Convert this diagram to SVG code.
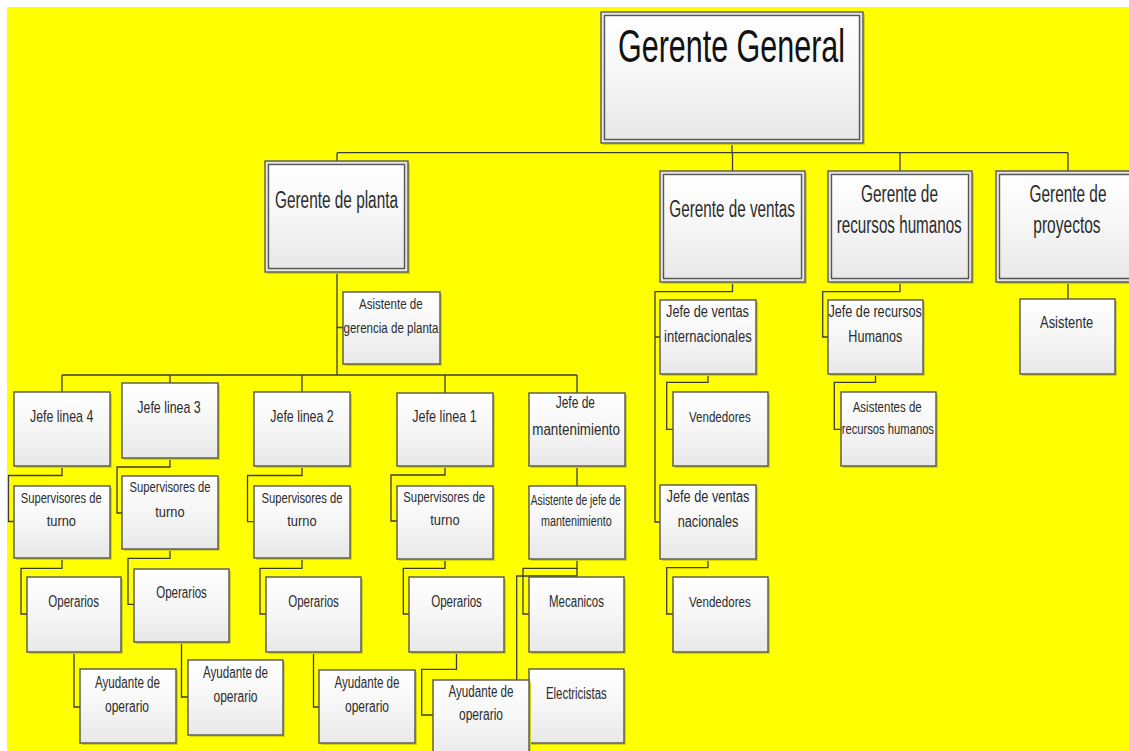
<svg xmlns="http://www.w3.org/2000/svg" width="1129" height="751" viewBox="0 0 1129 751">
  <defs>
    <linearGradient id="fillG" x1="0" y1="0" x2="0" y2="1">
      <stop offset="0" stop-color="#ffffff"/>
      <stop offset="0.45" stop-color="#f7f7f7"/>
      <stop offset="1" stop-color="#e8e8e8"/>
    </linearGradient>
    <style>
      .box { fill: url(#fillG); stroke: #555555; stroke-width: 1.4; }
      .frame { fill: #e4e4e4; stroke: #5a5a5a; stroke-width: 1.4; }
      .sh { fill: #d4d400; }
      .c { fill: none; stroke: #3c3c3c; stroke-width: 1.3; }
      text { font-family: "Liberation Sans", Arial, sans-serif; fill: #2b2b2b; }
      .f47 { font-size: 47px; fill: #111111; }
      .f23 { font-size: 23px; }
      .f17 { font-size: 17px; }
      .f16 { font-size: 16px; }
      .f15 { font-size: 15.5px; }
      .f14 { font-size: 14px; }
    </style>
  </defs>

  <!-- page background -->
  <rect x="0" y="0" width="1129" height="751" fill="#ffffff"/>
  <rect x="7" y="7" width="1122" height="744" fill="#ffff00"/>

  <!-- connectors -->
  <g id="connectors" class="c">
    <path d="M732,143 V152.7 M337,152.7 H1068 M337,152.7 V161 M732.5,152.7 V171 M900,152.7 V171 M1068,152.7 V171"/>
    <path d="M337,272 V375 M337,327.5 H343"/>
    <path d="M62,375 H577 M62,375 V392 M170,375 V383 M302,375 V392 M445,375 V393 M577,375 V393"/>
    <!-- linea 4 -->
    <path d="M62,466 V475.5 H8.5 V521.5 H14"/>
    <path d="M62,558 V568.3 H21 V614 H27"/>
    <path d="M74,652 V707 H80"/>
    <!-- linea 3 -->
    <path d="M170,458 V467 H117 V513 H122"/>
    <path d="M170,549 V558.3 H128 V604.3 H134"/>
    <path d="M181.5,642 V697 H188"/>
    <!-- linea 2 -->
    <path d="M302,466 V475.5 H247.5 V521.7 H254"/>
    <path d="M302,558 V568.3 H260 V614 H266"/>
    <path d="M313.5,652 V707 H319"/>
    <!-- linea 1 -->
    <path d="M445,466 V475 H391 V521 H397"/>
    <path d="M445,559 V568.3 H403.3 V614 H409"/>
    <path d="M456.5,652 V669.3 H421.7 V715 H433"/>
    <!-- mantenimiento -->
    <path d="M577,466 V486"/>
    <path d="M577,559 V568.3 H523 V614 H529"/>
    <path d="M577,568.3 V576 H516.7 V706 H529"/>
    <!-- ventas -->
    <path d="M732.5,282 V291.7 H655 V522 H660 M655,337 H660"/>
    <path d="M708,374 V382.3 H666.7 V429.3 H673"/>
    <path d="M708,559 V567.7 H666.7 V614 H673"/>
    <!-- recursos humanos -->
    <path d="M900,282 V291.7 H822.7 V337 H828"/>
    <path d="M875.5,374 V382.3 H834.3 V429.3 H841"/>
    <!-- proyectos -->
    <path d="M1068,282 V299"/>
  </g>

  <!-- top level -->
  <g id="gerente-general">
    <rect class="sh" x="603" y="14" width="262" height="131"/>
    <rect class="frame" x="601" y="12" width="262" height="131"/>
    <rect class="box" x="604.5" y="15.5" width="255" height="124"/>
    <text class="f47" x="618" y="61.7" textLength="227" lengthAdjust="spacingAndGlyphs">Gerente General</text>
  </g>

  <g id="gerente-planta">
    <rect class="sh" x="267" y="163" width="143" height="111"/>
    <rect class="frame" x="265" y="161" width="143" height="111"/>
    <rect class="box" x="268.5" y="164.5" width="136" height="104"/>
    <text class="f23" x="275" y="208" textLength="123" lengthAdjust="spacingAndGlyphs">Gerente de planta</text>
  </g>

  <g id="gerente-ventas">
    <rect class="sh" x="662" y="173" width="145" height="111"/>
    <rect class="frame" x="660" y="171" width="145" height="111"/>
    <rect class="box" x="663.5" y="174.5" width="138" height="104"/>
    <text class="f23" x="669.3" y="216.7" textLength="125.7" lengthAdjust="spacingAndGlyphs">Gerente de ventas</text>
  </g>

  <g id="gerente-rrhh">
    <rect class="sh" x="830" y="173" width="144" height="111"/>
    <rect class="frame" x="828" y="171" width="144" height="111"/>
    <rect class="box" x="831.5" y="174.5" width="137" height="104"/>
    <text class="f23" x="861" y="201.7" textLength="77" lengthAdjust="spacingAndGlyphs">Gerente de</text>
    <text class="f23" x="836.7" y="233.3" textLength="125" lengthAdjust="spacingAndGlyphs">recursos humanos</text>
  </g>

  <!-- this box runs on past the right edge of the page -->
  <g id="gerente-proyectos">
    <rect class="sh" x="998" y="173" width="131" height="111"/>
    <path class="frame" d="M1129,171 H996 V282 H1129"/>
    <path class="box" d="M1129,174.5 H999.5 V278.5 H1129"/>
    <text class="f23" x="1029.5" y="201.7" textLength="77" lengthAdjust="spacingAndGlyphs">Gerente de</text>
    <text class="f23" x="1033.3" y="233.3" textLength="67.3" lengthAdjust="spacingAndGlyphs">proyectos</text>
  </g>

  <!-- planta -->
  <g id="asistente-gerencia">
    <rect class="sh" x="345" y="294" width="97" height="72"/>
    <rect class="box" x="343" y="292" width="97" height="72"/>
    <text class="f14" x="359" y="308.7" textLength="63.7" lengthAdjust="spacingAndGlyphs">Asistente de</text>
    <text class="f14" x="343.5" y="333.3" textLength="95" lengthAdjust="spacingAndGlyphs">gerencia de planta</text>
  </g>

  <g id="jefe-linea-4">
    <rect class="sh" x="16" y="394" width="96" height="74"/>
    <rect class="box" x="14" y="392" width="96" height="74"/>
    <text class="f17" x="30" y="422.3" textLength="63.3" lengthAdjust="spacingAndGlyphs">Jefe linea 4</text>
  </g>
  <g id="jefe-linea-3">
    <rect class="sh" x="124" y="385" width="96" height="75"/>
    <rect class="box" x="122" y="383" width="96" height="75"/>
    <text class="f17" x="137.3" y="412.7" textLength="63.4" lengthAdjust="spacingAndGlyphs">Jefe linea 3</text>
  </g>
  <g id="jefe-linea-2">
    <rect class="sh" x="256" y="394" width="96" height="74"/>
    <rect class="box" x="254" y="392" width="96" height="74"/>
    <text class="f17" x="270.3" y="422" textLength="63.4" lengthAdjust="spacingAndGlyphs">Jefe linea 2</text>
  </g>
  <g id="jefe-linea-1">
    <rect class="sh" x="399" y="395" width="96" height="73"/>
    <rect class="box" x="397" y="393" width="96" height="73"/>
    <text class="f17" x="412.3" y="421.7" textLength="64.4" lengthAdjust="spacingAndGlyphs">Jefe linea 1</text>
  </g>
  <g id="jefe-mantenimiento">
    <rect class="sh" x="531" y="395" width="96" height="73"/>
    <rect class="box" x="529" y="393" width="96" height="73"/>
    <text class="f16" x="555.7" y="408.3" textLength="39.3" lengthAdjust="spacingAndGlyphs">Jefe de</text>
    <text class="f16" x="532.3" y="435" textLength="87.7" lengthAdjust="spacingAndGlyphs">mantenimiento</text>
  </g>

  <g id="supervisores-4">
    <rect class="sh" x="16" y="488" width="96" height="72"/>
    <rect class="box" x="14" y="486" width="96" height="72"/>
    <text class="f15" x="20.7" y="502.7" textLength="81" lengthAdjust="spacingAndGlyphs">Supervisores de</text>
    <text class="f15" x="46.7" y="525.7" textLength="29.3" lengthAdjust="spacingAndGlyphs">turno</text>
  </g>
  <g id="supervisores-3">
    <rect class="sh" x="124" y="478" width="96" height="73"/>
    <rect class="box" x="122" y="476" width="96" height="73"/>
    <text class="f15" x="129.5" y="492.3" textLength="81" lengthAdjust="spacingAndGlyphs">Supervisores de</text>
    <text class="f15" x="155.3" y="516.7" textLength="29.3" lengthAdjust="spacingAndGlyphs">turno</text>
  </g>
  <g id="supervisores-2">
    <rect class="sh" x="256" y="488" width="96" height="72"/>
    <rect class="box" x="254" y="486" width="96" height="72"/>
    <text class="f15" x="261.5" y="502.5" textLength="81" lengthAdjust="spacingAndGlyphs">Supervisores de</text>
    <text class="f15" x="287.3" y="525.5" textLength="29.3" lengthAdjust="spacingAndGlyphs">turno</text>
  </g>
  <g id="supervisores-1">
    <rect class="sh" x="399" y="488" width="96" height="73"/>
    <rect class="box" x="397" y="486" width="96" height="73"/>
    <text class="f15" x="403.3" y="501.7" textLength="81.7" lengthAdjust="spacingAndGlyphs">Supervisores de</text>
    <text class="f15" x="430.3" y="525" textLength="29.3" lengthAdjust="spacingAndGlyphs">turno</text>
  </g>
  <g id="asistente-mantenimiento">
    <rect class="sh" x="531" y="488" width="96" height="73"/>
    <rect class="box" x="529" y="486" width="96" height="73"/>
    <text class="f14" x="530.7" y="505" textLength="90" lengthAdjust="spacingAndGlyphs">Asistente de jefe de</text>
    <text class="f14" x="541" y="525.7" textLength="70.7" lengthAdjust="spacingAndGlyphs">mantenimiento</text>
  </g>

  <g id="operarios-4">
    <rect class="sh" x="29" y="579" width="94" height="75"/>
    <rect class="box" x="27" y="577" width="94" height="75"/>
    <text class="f16" x="48.3" y="606.7" textLength="50.7" lengthAdjust="spacingAndGlyphs">Operarios</text>
  </g>
  <g id="operarios-3">
    <rect class="sh" x="136" y="571" width="95" height="73"/>
    <rect class="box" x="134" y="569" width="95" height="73"/>
    <text class="f16" x="156.2" y="598.3" textLength="50.7" lengthAdjust="spacingAndGlyphs">Operarios</text>
  </g>
  <g id="operarios-2">
    <rect class="sh" x="268" y="579" width="95" height="75"/>
    <rect class="box" x="266" y="577" width="95" height="75"/>
    <text class="f16" x="288.2" y="606.7" textLength="50.7" lengthAdjust="spacingAndGlyphs">Operarios</text>
  </g>
  <g id="operarios-1">
    <rect class="sh" x="411" y="579" width="95" height="75"/>
    <rect class="box" x="409" y="577" width="95" height="75"/>
    <text class="f16" x="431.2" y="606.7" textLength="50.7" lengthAdjust="spacingAndGlyphs">Operarios</text>
  </g>
  <g id="mecanicos">
    <rect class="sh" x="531" y="579" width="95" height="75"/>
    <rect class="box" x="529" y="577" width="95" height="75"/>
    <text class="f16" x="549" y="606.7" textLength="55" lengthAdjust="spacingAndGlyphs">Mecanicos</text>
  </g>

  <g id="ayudante-4">
    <rect class="sh" x="82" y="671" width="96" height="74"/>
    <rect class="box" x="80" y="669" width="96" height="74"/>
    <text class="f16" x="95" y="688.3" textLength="65" lengthAdjust="spacingAndGlyphs">Ayudante de</text>
    <text class="f16" x="105" y="711.7" textLength="44" lengthAdjust="spacingAndGlyphs">operario</text>
  </g>
  <g id="ayudante-3">
    <rect class="sh" x="190" y="662" width="95" height="75"/>
    <rect class="box" x="188" y="660" width="95" height="75"/>
    <text class="f16" x="203" y="678.3" textLength="65" lengthAdjust="spacingAndGlyphs">Ayudante de</text>
    <text class="f16" x="213.5" y="701.7" textLength="44" lengthAdjust="spacingAndGlyphs">operario</text>
  </g>
  <g id="ayudante-2">
    <rect class="sh" x="321" y="672" width="96" height="73"/>
    <rect class="box" x="319" y="670" width="96" height="73"/>
    <text class="f16" x="334.5" y="688.3" textLength="65" lengthAdjust="spacingAndGlyphs">Ayudante de</text>
    <text class="f16" x="345" y="711.7" textLength="44" lengthAdjust="spacingAndGlyphs">operario</text>
  </g>
  <g id="electricistas">
    <rect class="sh" x="531" y="671" width="95" height="74"/>
    <rect class="box" x="529" y="669" width="95" height="74"/>
    <text class="f16" x="546" y="699.3" textLength="60.7" lengthAdjust="spacingAndGlyphs">Electricistas</text>
  </g>
  <g id="ayudante-1">
    <rect class="sh" x="435" y="682" width="96" height="80"/>
    <rect class="box" x="433" y="680" width="96" height="80"/>
    <text class="f16" x="448.5" y="697.3" textLength="65" lengthAdjust="spacingAndGlyphs">Ayudante de</text>
    <text class="f16" x="459" y="720" textLength="44" lengthAdjust="spacingAndGlyphs">operario</text>
  </g>

  <!-- ventas -->
  <g id="jefe-ventas-int">
    <rect class="sh" x="662" y="302" width="96" height="74"/>
    <rect class="box" x="660" y="300" width="96" height="74"/>
    <text class="f16" x="666" y="316.7" textLength="83" lengthAdjust="spacingAndGlyphs">Jefe de ventas</text>
    <text class="f16" x="664" y="341.7" textLength="87.7" lengthAdjust="spacingAndGlyphs">internacionales</text>
  </g>
  <g id="vendedores-int">
    <rect class="sh" x="675" y="394" width="95" height="74"/>
    <rect class="box" x="673" y="392" width="95" height="74"/>
    <text class="f15" x="689" y="421.7" textLength="61.7" lengthAdjust="spacingAndGlyphs">Vendedores</text>
  </g>
  <g id="jefe-ventas-nac">
    <rect class="sh" x="662" y="487" width="96" height="74"/>
    <rect class="box" x="660" y="485" width="96" height="74"/>
    <text class="f16" x="666.5" y="501.7" textLength="83" lengthAdjust="spacingAndGlyphs">Jefe de ventas</text>
    <text class="f16" x="677.7" y="526.7" textLength="60.7" lengthAdjust="spacingAndGlyphs">nacionales</text>
  </g>
  <g id="vendedores-nac">
    <rect class="sh" x="675" y="579" width="95" height="75"/>
    <rect class="box" x="673" y="577" width="95" height="75"/>
    <text class="f15" x="689" y="606.7" textLength="61.7" lengthAdjust="spacingAndGlyphs">Vendedores</text>
  </g>

  <!-- recursos humanos -->
  <g id="jefe-rrhh">
    <rect class="sh" x="830" y="302" width="95" height="74"/>
    <rect class="box" x="828" y="300" width="95" height="74"/>
    <text class="f16" x="828.5" y="316.7" textLength="93.3" lengthAdjust="spacingAndGlyphs">Jefe de recursos</text>
    <text class="f16" x="848.3" y="341.7" textLength="54" lengthAdjust="spacingAndGlyphs">Humanos</text>
  </g>
  <g id="asistentes-rrhh">
    <rect class="sh" x="843" y="394" width="95" height="74"/>
    <rect class="box" x="841" y="392" width="95" height="74"/>
    <text class="f15" x="852.7" y="411.7" textLength="69" lengthAdjust="spacingAndGlyphs">Asistentes de</text>
    <text class="f15" x="841.7" y="434" textLength="92.3" lengthAdjust="spacingAndGlyphs">recursos humanos</text>
  </g>

  <!-- proyectos -->
  <g id="asistente-proyectos">
    <rect class="sh" x="1022" y="301" width="95" height="75"/>
    <rect class="box" x="1020" y="299" width="95" height="75"/>
    <text class="f16" x="1040" y="328.3" textLength="53.3" lengthAdjust="spacingAndGlyphs">Asistente</text>
  </g>
</svg>
